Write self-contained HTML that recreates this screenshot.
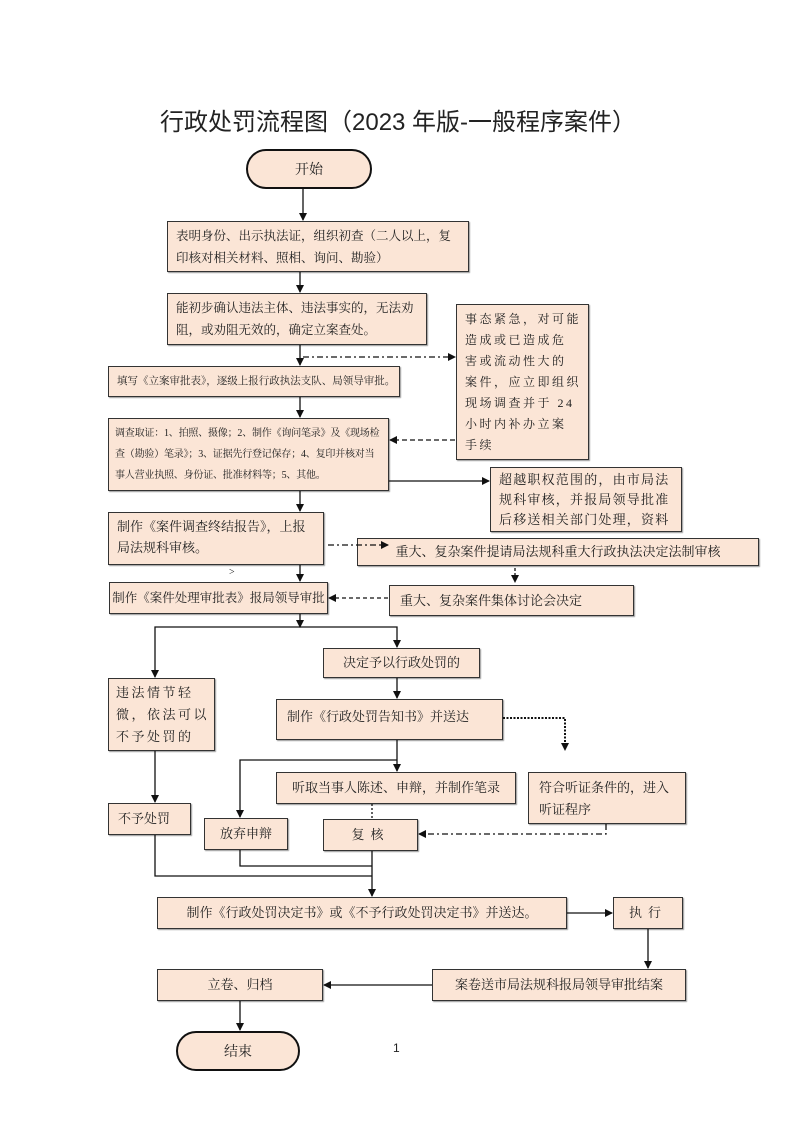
<!DOCTYPE html>
<html><head><meta charset="utf-8"><style>
html,body{margin:0;padding:0;background:#fff;}
body{width:793px;height:1122px;position:relative;overflow:hidden;font-family:"Liberation Serif","Noto Serif CJK SC","Noto Sans CJK SC",serif;color:#222;}
.b{position:absolute;box-sizing:border-box;background:#fbe5d6;border:1.3px solid #333;box-shadow:1px 1px 1px #999;font-size:13px;line-height:22px;padding:4px 10px;letter-spacing:0;overflow:hidden;}
.c{display:flex;align-items:center;justify-content:center;padding:0;white-space:nowrap;}
.nw{white-space:nowrap;}
.p{position:absolute;box-sizing:border-box;background:#fbe5d6;border:2px solid #111;border-radius:22px;display:flex;align-items:center;justify-content:center;font-size:14px;}
svg{position:absolute;left:0;top:0;}
</style></head><body>
<div style="position:absolute;left:160px;top:102px;width:500px;font-size:24px;font-family:'Liberation Sans','Noto Sans CJK SC',sans-serif;white-space:nowrap;">行政处罚流程图（2023 年版-一般程序案件）</div>

<div class="p" style="left:246px;top:149px;width:126px;height:40px;">开始</div>
<div class="b" style="left:167px;top:221px;width:302px;height:51px;padding:3px 8px;font-size:12.5px;">表明身份、出示执法证，组织初查（二人以上，复印核对相关材料、照相、询问、勘验）</div>
<div class="b" style="left:167px;top:293px;width:260px;height:52px;padding:3px 8px;font-size:12.5px;">能初步确认违法主体、违法事实的，无法劝阻，或劝阻无效的，确定立案查处。</div>
<div class="b c" style="left:108px;top:366px;width:292px;height:31px;font-size:10.5px;justify-content:flex-start;padding-left:8px;">填写《立案审批表》，逐级上报行政执法支队、局领导审批。</div>
<div class="b" style="left:108px;top:418px;width:281px;height:73px;font-size:10px;line-height:21px;padding:4px 6px;letter-spacing:-0.2px;">调查取证：1、拍照、摄像；2、制作《询问笔录》及《现场检查（勘验）笔录》；3、证据先行登记保存；4、复印并核对当事人营业执照、身份证、批准材料等；5、其他。</div>
<div class="b nw" style="left:456px;top:304px;width:133px;height:156px;padding:4px 8px;letter-spacing:2.5px;line-height:21px;font-size:12px;">事态紧急，对可能<br>造成或已造成危<br>害或流动性大的<br>案件，应立即组织<br>现场调查并于 24<br>小时内补办立案<br>手续</div>
<div class="b nw" style="left:490px;top:467px;width:192px;height:65px;padding:2px 8px;line-height:20px;font-size:13px;letter-spacing:1.2px;">超越职权范围的，由市局法<br>规科审核，并报局领导批准<br>后移送相关部门处理，资料</div>
<div class="b" style="left:108px;top:512px;width:216px;height:53px;padding:3px 8px;line-height:21px;font-size:13px;">制作《案件调查终结报告》，上报局法规科审核。</div>
<div class="b c" style="left:357px;top:538px;width:402px;height:28px;">重大、复杂案件提请局法规科重大行政执法决定法制审核</div>
<div class="b c" style="left:109px;top:582px;width:219px;height:32px;font-size:12.5px;">制作《案件处理审批表》报局领导审批</div>
<div class="b c" style="left:389px;top:585px;width:245px;height:31px;justify-content:flex-start;padding-left:10px;">重大、复杂案件集体讨论会决定</div>
<div class="b c" style="left:323px;top:648px;width:157px;height:30px;">决定予以行政处罚的</div>
<div class="b nw" style="left:108px;top:678px;width:107px;height:73px;padding:3px 7px;letter-spacing:2.5px;">违法情节轻<br>微，依法可以<br>不予处罚的</div>
<div class="b" style="left:276px;top:699px;width:227px;height:41px;padding:6px 10px;">制作《行政处罚告知书》并送达</div>
<div class="b c" style="left:276px;top:772px;width:240px;height:32px;">听取当事人陈述、申辩，并制作笔录</div>
<div class="b" style="left:528px;top:772px;width:158px;height:52px;padding:4px 10px;">符合听证条件的，进入听证程序</div>
<div class="b c" style="left:108px;top:803px;width:83px;height:32px;justify-content:flex-start;padding-left:9px;">不予处罚</div>
<div class="b c" style="left:204px;top:818px;width:84px;height:32px;">放弃申辩</div>
<div class="b c" style="left:323px;top:819px;width:95px;height:32px;letter-spacing:6px;">复核</div>
<div class="b c" style="left:157px;top:897px;width:410px;height:32px;">制作《行政处罚决定书》或《不予行政处罚决定书》并送达。</div>
<div class="b c" style="left:613px;top:897px;width:70px;height:32px;letter-spacing:6px;">执行</div>
<div class="b c" style="left:432px;top:969px;width:254px;height:32px;">案卷送市局法规科报局领导审批结案</div>
<div class="b c" style="left:157px;top:969px;width:166px;height:32px;">立卷、归档</div>
<div class="p" style="left:176px;top:1031px;width:124px;height:40px;">结束</div>
<div style="position:absolute;left:393px;top:1041px;font-size:12px;font-family:'Liberation Sans',sans-serif;">1</div>
<div style="position:absolute;left:229px;top:567px;font-size:10px;">&gt;</div>

<svg width="793" height="1122" fill="none" stroke="#111" stroke-width="1.3">
<defs><marker id="a" markerWidth="8" markerHeight="8" refX="7" refY="4" orient="auto" markerUnits="userSpaceOnUse"><path d="M0,0 L8,4 L0,8 z" fill="#111" stroke="none"/></marker></defs>
<g marker-end="url(#a)">
<path d="M303 189V220"/>
<path d="M300 272V292"/>
<path d="M300 345V365"/>
<path d="M300 397V417"/>
<path d="M300 491V511"/>
<path d="M300 565V581"/>
<path d="M300 614V627"/>
<path d="M300 627H155V677"/>
<path d="M300 627H397V647"/>
<path d="M397 678V698"/>
<path d="M397 740V771"/>
<path d="M397 760H240V817"/>
<path d="M155 751V802"/>
<path d="M372 851V896"/>
<path d="M567 913H612"/>
<path d="M648 929V968"/>
<path d="M432 985H324"/>
<path d="M240 1001V1030"/>
<path d="M389 481H489"/>
<path d="M303 357H455" stroke-dasharray="6 3 2 3"/>
<path d="M455 440H390" stroke-dasharray="5 3"/>
<path d="M328 545H388" stroke-dasharray="6 3 2 3"/>
<path d="M515 568V582" stroke-dasharray="3 2"/>
<path d="M388 598H329" stroke-dasharray="4 3"/>
<path d="M503 718H565V750" stroke-dasharray="2 1.5" stroke-width="2"/>
<path d="M606 824V834H419" stroke-dasharray="6 3 2 3"/>
</g>
<path d="M155 835V876H372"/>
<path d="M240 850V866H372"/>
<path d="M372 804V819" stroke-dasharray="2 2"/>
</svg>
</body></html>
